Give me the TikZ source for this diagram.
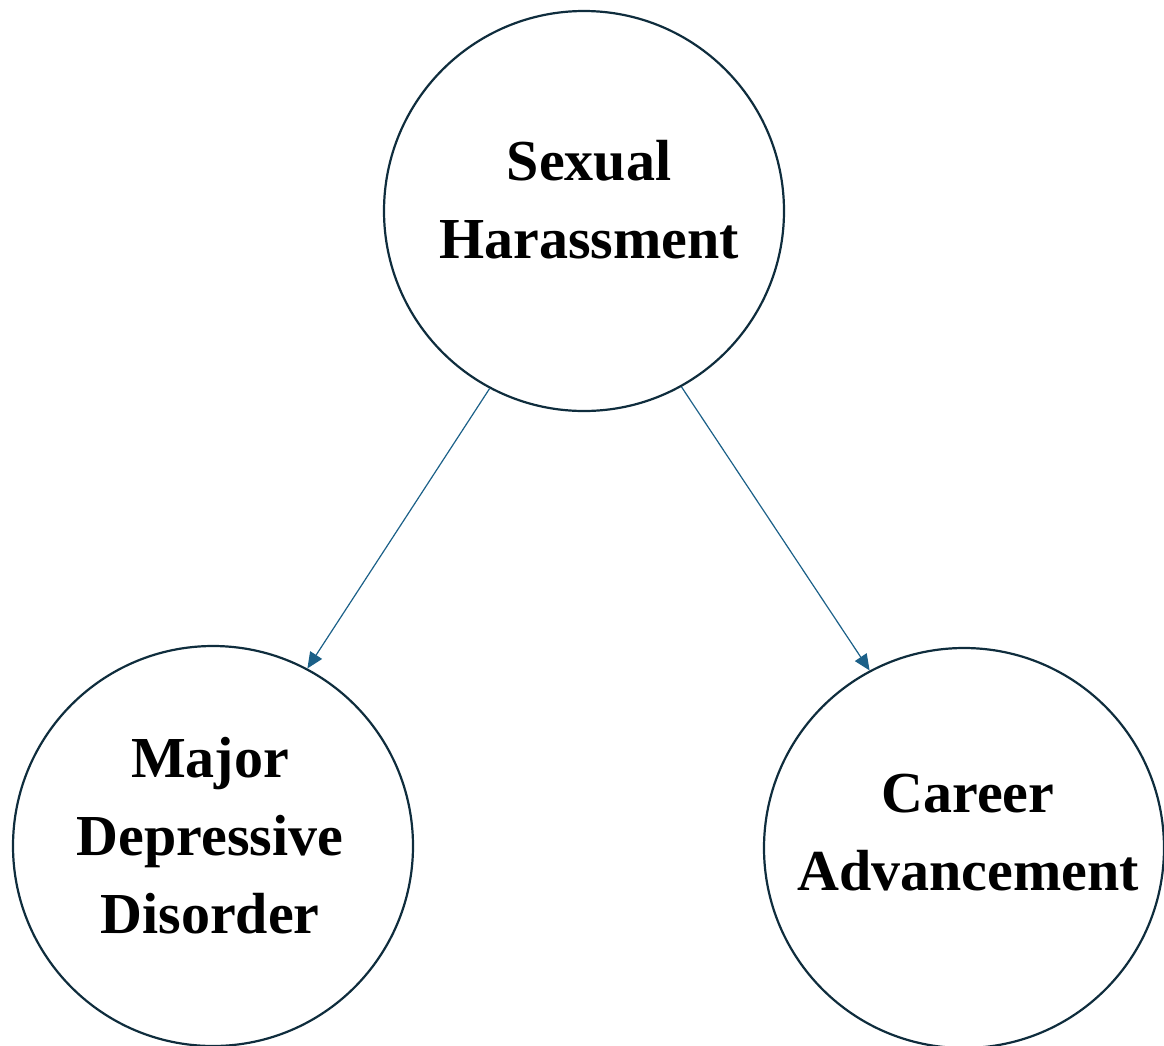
\documentclass[tikz,border=0pt]{standalone}
\usepackage{fontspec}
\setmainfont{Liberation Serif}
\usetikzlibrary{arrows.meta}
\definecolor{rim}{HTML}{0F2D3D}
\definecolor{link}{HTML}{1B6088}
\begin{document}
\begin{tikzpicture}[x=1pt,y=-1pt,
  bubble/.style={circle, draw=rim, line width=2.2pt, minimum size=400pt, inner sep=0pt},
  caption/.style={align=center, font=\fontsize{58}{78}\selectfont\bfseries, text=black, inner sep=0pt},
  flow/.style={draw=link, line width=1.2pt, -{Triangle[length=16pt,width=14pt]}}]
  \useasboundingbox (0,0) rectangle (1164,1045);
  \begin{scope}
    \clip (0,0) rectangle (1164,1045);
    % the three factors
    \node[bubble] (sh) at (584,211) {};
    \node[bubble] (mdd) at (213,846) {};
    \node[bubble] (ca) at (964,848) {};
    \node[caption] (shtext) at (589,200) {Sexual\\Harassment};
    \node[caption] (mddtext) at (210,836) {Major\\Depressive\\Disorder};
    \node[caption] (catext) at (968,833) {Career\\Advancement};
    % effects of harassment
    \draw[flow] (sh.242) -- (mdd.62.7);
    \draw[flow] (sh.299.5) -- (ca.118.7);
  \end{scope}
\end{tikzpicture}
\end{document}
